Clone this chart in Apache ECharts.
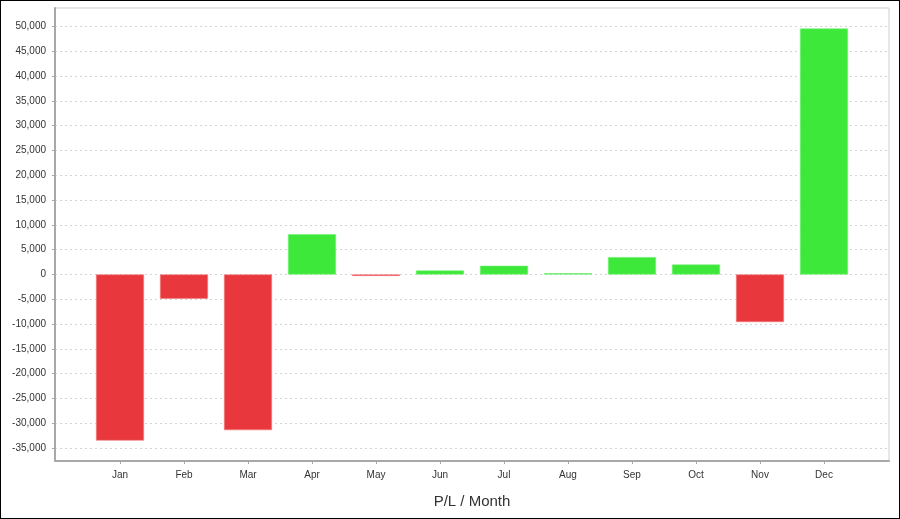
<!DOCTYPE html>
<html>
<head>
<meta charset="utf-8">
<script src="https://cdn.jsdelivr.net/npm/echarts@6/dist/echarts.min.js"></script>
<style>
html,body{margin:0;padding:0;background:#fff;}
#wrap{position:relative;width:900px;height:519px;}
#chart{width:900px;height:519px;}
#frame{position:absolute;left:0;top:0;width:900px;height:519px;box-sizing:border-box;border:1px solid #000;pointer-events:none;}
</style>
</head>
<body>
<div id="wrap"><div id="chart"></div><div id="frame"></div></div>
<script>
const months = ['Jan','Feb','Mar','Apr','May','Jun','Jul','Aug','Sep','Oct','Nov','Dec'];
const profitLoss = [-33500, -4900, -31400, 8100, -300, 800, 1750, 250, 3500, 2000, -9600, 49600];
const axisTitle = 'P/L / Month';
const yMin = -35000, yMax = 50000, yStep = 5000;

const RED = '#e8383d', GREEN = '#3de83b';
const fontFam = '"Liberation Sans", Arial, sans-serif';
const AXIS = '#a8a8a8';

const chart = echarts.init(document.getElementById('chart'), null, {renderer: 'canvas'});
chart.setOption({
  animation: false,
  backgroundColor: '#fff',
  grid: [
    {left: 55, right: 11, top: 8, bottom: 58, show: true, borderColor: '#cfcfcf', borderWidth: 1},
    {left: 55, right: 11, top: 26.5, bottom: 71},
    {left: 88, right: 44, top: 26.5, bottom: 71}
  ],
  xAxis: [
    {
      gridIndex: 0, type: 'value', min: 0, max: 1,
      axisLine: {show: true, onZero: false, lineStyle: {color: AXIS, width: 2}},
      axisTick: {show: false}, axisLabel: {show: false}, splitLine: {show: false},
      name: axisTitle, nameLocation: 'middle', nameGap: 33,
      nameTextStyle: {fontFamily: fontFam, fontSize: 15, color: '#333'}
    },
    {gridIndex: 1, type: 'value', min: 0, max: 1, show: false},
    {
      gridIndex: 2, type: 'category', data: months, offset: 13,
      axisLine: {show: false, onZero: false},
      axisTick: {show: true, alignWithLabel: true, length: 3, lineStyle: {color: AXIS}},
      axisLabel: {fontFamily: fontFam, fontSize: 10, color: '#333', margin: 9},
      splitLine: {show: false}
    }
  ],
  yAxis: [
    {
      gridIndex: 0, type: 'value', min: 0, max: 1,
      axisLine: {show: true, onZero: false, lineStyle: {color: AXIS, width: 2}},
      axisTick: {show: false}, axisLabel: {show: false}, splitLine: {show: false}
    },
    {
      gridIndex: 1, type: 'value', min: yMin, max: yMax, interval: yStep,
      axisLine: {show: false},
      axisTick: {show: true, length: 3, lineStyle: {color: AXIS}},
      axisLabel: {
        fontFamily: fontFam, fontSize: 10, color: '#333', margin: 9,
        formatter: v => v.toLocaleString('en-US')
      },
      splitLine: {show: true, lineStyle: {color: '#d4d4d4', type: [2, 3], width: 1}}
    },
    {
      gridIndex: 2, type: 'value', min: yMin, max: yMax, interval: yStep, show: false,
      splitLine: {show: false}
    }
  ],
  series: [{
    type: 'bar', xAxisIndex: 2, yAxisIndex: 2,
    barWidth: 48,
    data: profitLoss.map(v => ({
      value: v,
      itemStyle: {color: v < 0 ? RED : GREEN, borderColor: v < 0 ? '#f07a7d' : '#6ef06b', borderWidth: 0.6}
    }))
  }]
});
</script>
</body>
</html>
